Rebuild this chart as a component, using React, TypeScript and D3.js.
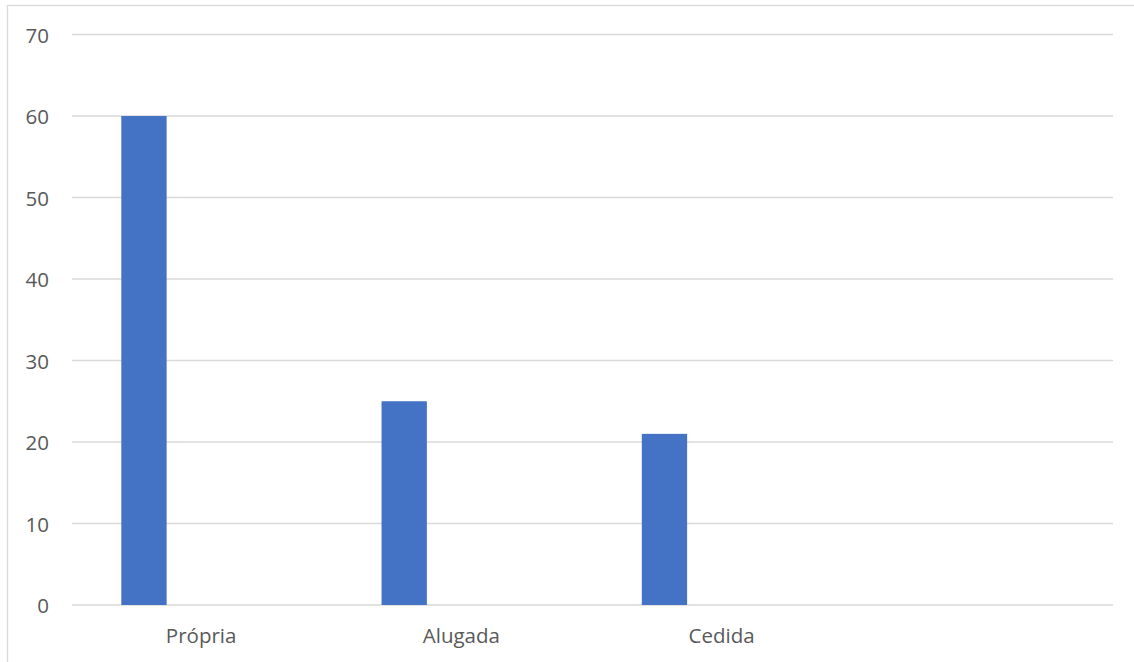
import React from "react";
import * as d3 from "d3";

const categories = ["Própria", "Alugada", "Cedida", ""];
const values = [60, 25, 21, null];
const yTicks = [0, 10, 20, 30, 40, 50, 60, 70];

const W = 1134;
const H = 662;
const plot = { left: 72, right: 1113, top: 34.5, bottom: 605 };

export default function App() {
  const x = d3.scaleBand<string>().domain(categories).range([plot.left, plot.right]).padding(0);
  const y = d3.scaleLinear().domain([0, 70]).range([plot.bottom, plot.top]);
  const bw = x.bandwidth();
  const barOffset = bw * 0.1894;
  const barWidth = bw * 0.1742;
  const font = "'Open Sans', 'Noto Sans', sans-serif";
  const fs = 20.5;

  return (
    <svg
      width={W}
      height={H}
      style={{ position: "absolute", left: 0, top: 0, display: "block", background: "#fff" }}
    >
      <rect x={7.5} y={5.5} width={W + 20} height={H + 20} fill="#fff" stroke="#d9d9d9" strokeWidth={1.3} />
      {yTicks.map((t) => (
        <g key={t}>
          <line x1={plot.left} x2={plot.right} y1={y(t)} y2={y(t)} stroke="#d9d9d9" strokeWidth={1.3} />
          <text
            x={49}
            y={y(t)}
            textAnchor="end"
            dominantBaseline="central"
            fontFamily={font}
            fontSize={fs}
            fill="#595959"
          >
            {t}
          </text>
        </g>
      ))}
      {categories.map((c, i) =>
        values[i] == null ? null : (
          <rect
            key={c}
            x={(x(c) as number) + barOffset}
            y={y(values[i] as number)}
            width={barWidth}
            height={y(0) - y(values[i] as number)}
            fill="#4472c4"
          />
        )
      )}
      {categories.map((c) => (
        <text
          key={"l" + c}
          x={(x(c) as number) + bw / 2 - 1}
          y={643}
          textAnchor="middle"
          fontFamily={font}
          fontSize={fs}
          fill="#595959"
        >
          {c}
        </text>
      ))}
    </svg>
  );
}
